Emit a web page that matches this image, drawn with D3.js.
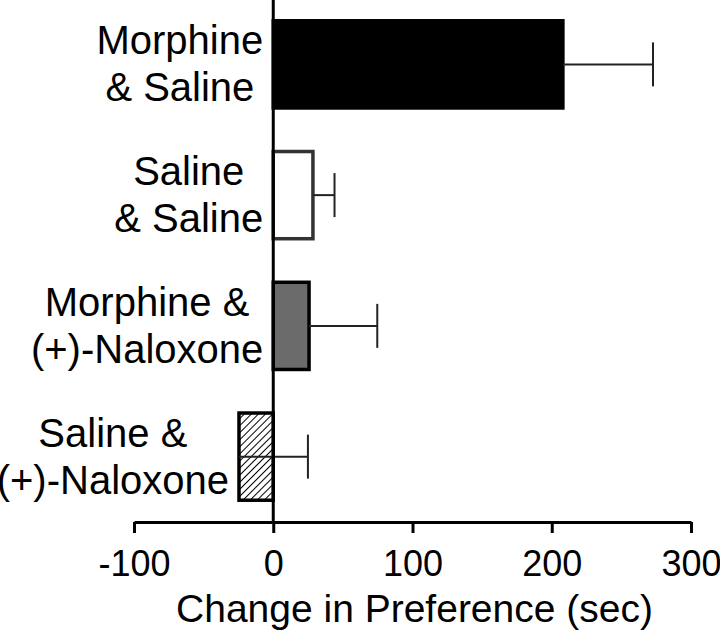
<!DOCTYPE html>
<html lang="en">
<head>
  <meta charset="UTF-8">
  <title>Change in Preference</title>
  <script src="https://d3js.org/d3.v7.min.js"></script>
  <style>
    body { margin: 0; background: #fff; }
    text { font-family: "Liberation Sans", Arial, sans-serif; fill: #000; }
  </style>
</head>
<body>
  <script>
    // data
    var groups = ["Morphine & Saline", "Saline & Saline", "Morphine & (+)-Naloxone", "Saline & (+)-Naloxone"];
    var labelLines = [["Morphine", "& Saline"], ["Saline", "& Saline"], ["Morphine &", "(+)-Naloxone"], ["Saline &", "(+)-Naloxone"]];
    var means = [208, 28.5, 25.7, -24.6];
    var sems = [64.7, 15.5, 49, 49.5];
    var xTicks = [-100, 0, 100, 200, 300];

    var width = 720, height = 634;
    var fills = ["#000", "#fff", "#6b6b6b", "url(#hatch)"];
    var strokes = ["#000", "#333", "#000", "#000"];

    var svg = d3.select("body").append("svg")
      .attr("width", width)
      .attr("height", height);

    var defs = svg.append("defs");
    var pat = defs.append("pattern")
      .attr("id", "hatch")
      .attr("patternUnits", "userSpaceOnUse")
      .attr("width", 5).attr("height", 5)
      .attr("patternTransform", "rotate(45)");
    pat.append("rect").attr("width", 5).attr("height", 5).attr("fill", "#fff");
    pat.append("line")
      .attr("x1", 0).attr("y1", 0).attr("x2", 0).attr("y2", 5)
      .attr("stroke", "#000").attr("stroke-width", 2);

    var x = d3.scaleLinear().domain([-100, 300]).range([134, 691]);
    var y = d3.scaleBand().domain(groups).range([-1, 522]).paddingInner(0.333).paddingOuter(0.1665);

    // bars
    svg.selectAll("rect.bar")
      .data(groups)
      .enter().append("rect")
      .attr("class", "bar")
      .attr("x", function(d, i) { return x(Math.min(0, means[i])); })
      .attr("y", function(d) { return y(d); })
      .attr("width", function(d, i) { return Math.abs(x(means[i]) - x(0)); })
      .attr("height", y.bandwidth())
      .attr("fill", function(d, i) { return fills[i]; })
      .attr("stroke", function(d, i) { return strokes[i]; })
      .attr("stroke-width", 3.5);

    // error bars (one-sided, mean to mean + sem)
    var err = svg.append("g").attr("stroke", "#222").attr("stroke-width", 2);
    groups.forEach(function(g, i) {
      var cy = y(g) + y.bandwidth() / 2;
      err.append("line")
        .attr("x1", x(means[i])).attr("x2", x(means[i] + sems[i]))
        .attr("y1", cy).attr("y2", cy);
      err.append("line")
        .attr("x1", x(means[i] + sems[i])).attr("x2", x(means[i] + sems[i]))
        .attr("y1", cy - 22).attr("y2", cy + 22);
    });

    // vertical zero line
    svg.append("line")
      .attr("x1", x(0)).attr("x2", x(0))
      .attr("y1", 0).attr("y2", 522)
      .attr("stroke", "#000").attr("stroke-width", 3);

    // x axis
    var xAxis = svg.append("g")
      .attr("transform", "translate(0,522)")
      .call(d3.axisBottom(x).tickValues(xTicks).tickFormat(function(d) { return String(d); })
        .tickSize(11).tickSizeOuter(0).tickPadding(17));
    xAxis.select(".domain").attr("stroke", "#000").attr("stroke-width", 3);
    xAxis.selectAll(".tick line").attr("stroke", "#000").attr("stroke-width", 3);
    xAxis.selectAll(".tick text")
      .attr("font-family", "Liberation Sans, Arial, sans-serif")
      .attr("font-size", 36).attr("fill", "#000");

    svg.append("text")
      .attr("x", (x(-100) + x(300)) / 2 + 2)
      .attr("y", 622)
      .attr("text-anchor", "middle")
      .attr("font-size", 39)
      .text("Change in Preference (sec)");

    // category labels, centred lines, placed left of the bar
    groups.forEach(function(g, i) {
      var cy = y(g) + y.bandwidth() / 2;
      var right = Math.min(x(0), x(means[i])) - 10;
      var t = svg.append("text")
        .attr("text-anchor", "middle")
        .attr("font-size", 40);
      t.selectAll("tspan")
        .data(labelLines[i])
        .enter().append("tspan")
        .attr("dy", function(d, j) { return j === 0 ? 0 : 47; })
        .text(function(d) { return d; });
      var w = d3.max(t.selectAll("tspan").nodes(), function(n) { return n.getComputedTextLength(); });
      var cx = right - w / 2;
      t.attr("y", cy - 10);
      t.selectAll("tspan").attr("x", cx);
    });
  </script>
</body>
</html>
